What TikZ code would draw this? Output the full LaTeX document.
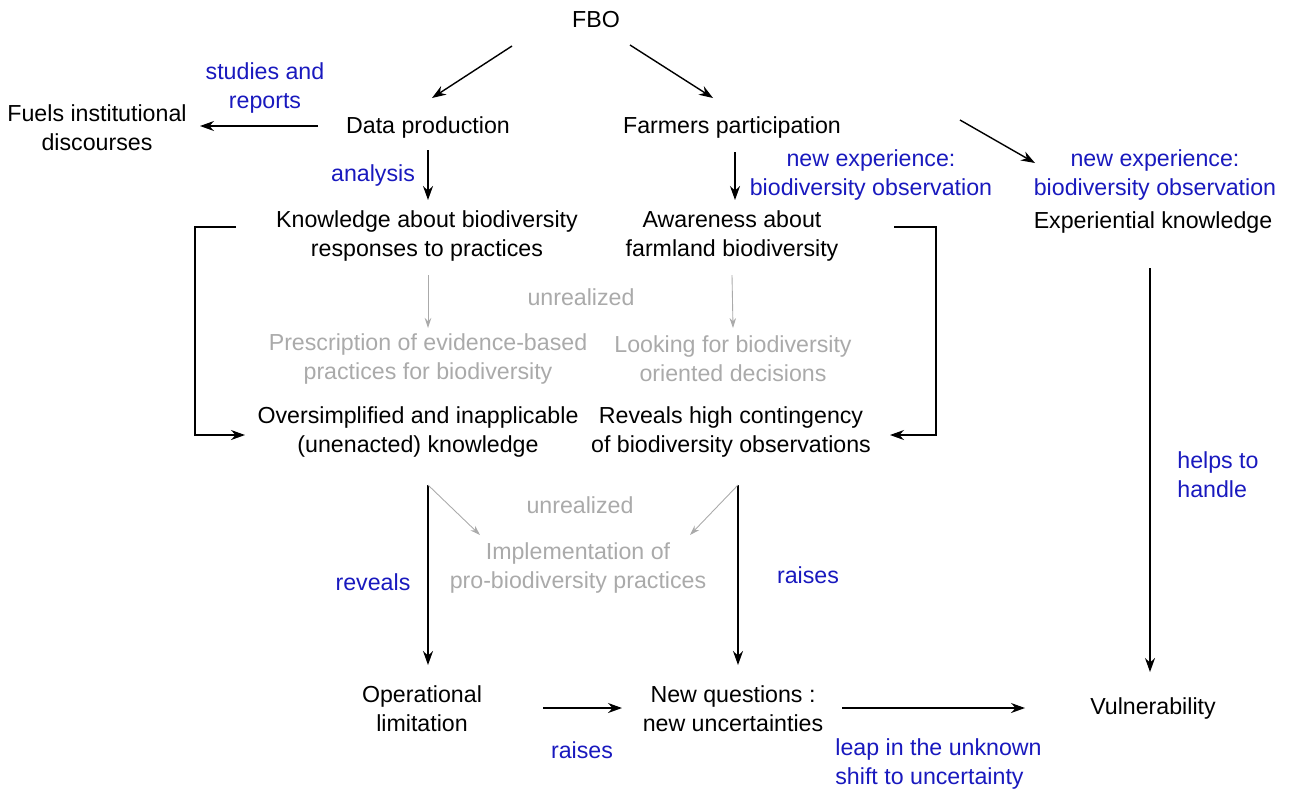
\documentclass[tikz,border=0pt]{standalone}
\usepackage{fontspec}
\setmainfont{Liberation Sans}
\usetikzlibrary{arrows.meta}
\definecolor{labelblue}{RGB}{25,25,190}
\definecolor{faded}{RGB}{170,170,170}
\begin{document}
\begin{tikzpicture}[x=0.02cm, y=-0.02cm,
    every node/.style={font=\fontsize{13.2}{16.5}\selectfont, inner sep=0pt, align=center},
    lbl/.style={text=labelblue},
    grey/.style={text=faded},
    arr/.style={-{Stealth[length=0.28cm, width=0.2cm]}, line width=0.8pt},
    greyarr/.style={-{Stealth[length=0.2cm, width=0.13cm]}, line width=0.5pt, draw=faded}]
    \useasboundingbox (0, -2) rectangle (1290, 787);

    % Main nodes
    \node (fbo) at (596, 18) {FBO};
    \node (data) at (428, 125) {Data production};
    \node (farm) at (732, 125) {Farmers participation};
    \node (fuels) at (97, 126) {Fuels institutional\\discourses};
    \node (know) at (427, 234) {Knowledge about biodiversity\\responses to practices};
    \node (aware) at (732, 234) {Awareness about\\farmland biodiversity};
    \node (exper) at (1153, 220) {Experiential knowledge};
    \node[grey] (presc) at (428, 357) {Prescription of evidence-based\\practices for biodiversity};
    \node[grey] (look) at (733, 357) {Looking for biodiversity\\oriented decisions};
    \node (overs) at (418, 430) {Oversimplified and inapplicable\\(unenacted) knowledge};
    \node (reveal) at (731, 430) {Reveals high contingency\\of biodiversity observations};
    \node[grey] (impl) at (578, 566) {Implementation of\\pro-biodiversity practices};
    \node (oper) at (422, 707) {Operational\\limitation};
    \node (newq) at (733, 707) {New questions :\\new uncertainties};
    \node (vuln) at (1153, 706) {Vulnerability};

    % Labels
    \node[lbl] (studies) at (265, 86) {studies and\\reports};
    \node[lbl] (analysis) at (373, 173) {analysis};
    \node[lbl] (newexpa) at (871, 173) {new experience:\\biodiversity observation};
    \node[lbl] (newexpb) at (1155, 173) {new experience:\\biodiversity observation};
    \node[grey] (unreala) at (581, 295) {unrealized};
    \node[grey] (unrealb) at (580, 503) {unrealized};
    \node[lbl] (revlbl) at (373, 580) {reveals};
    \node[lbl] (raisesa) at (808, 573) {raises};
    \node[lbl] (raisesb) at (582, 748) {raises};
    \node[lbl, align=left, anchor=west] (leap) at (835, 762) {leap in the unknown\\shift to uncertainty};
    \node[lbl, align=left, anchor=west] (helps) at (1177, 473) {helps to\\handle};

    % Arrows
    \draw[arr] ([shift={(-84, 26)}]fbo.center) -- ([shift={(4, -29)}]data.center);
    \draw[arr] ([shift={(34, 25)}]fbo.center) -- ([shift={(-19, -29)}]farm.center);
    \draw[arr] ([shift={(-110, -1)}]data.center) -- ([shift={(103, -2)}]fuels.center);
    \draw[arr] ([shift={(0, 23)}]data.center) -- ([shift={(1, -36)}]know.center);
    \draw[arr] ([shift={(3, 25)}]farm.center) -- ([shift={(3, -36)}]aware.center);
    \draw[arr] ([shift={(228, -7)}]farm.center) -- ([shift={(-118, -59)}]exper.center);
    \draw[greyarr] ([shift={(1, 39)}]know.center) -- ([shift={(0, -31)}]presc.center);
    \draw[greyarr] ([shift={(0, 39)}]aware.center) -- ([shift={(0, -31)}]look.center);
    \draw[arr] ([shift={(-191, -9)}]know.center) -- ++(-41, 0) |- ([shift={(-173, 3)}]overs.center);
    \draw[arr] ([shift={(162, -9)}]aware.center) -- ++(42, 0) |- ([shift={(159, 3)}]reveal.center);
    \draw[arr] ([shift={(10, 53)}]overs.center) -- ([shift={(6, -44)}]oper.center);
    \draw[arr] ([shift={(7, 53)}]reveal.center) -- ([shift={(5, -44)}]newq.center);
    \draw[greyarr] ([shift={(10, 53)}]overs.center) -- ([shift={(-98, -33)}]impl.center);
    \draw[greyarr] ([shift={(7, 53)}]reveal.center) -- ([shift={(112, -33)}]impl.center);
    \draw[arr] ([shift={(121, -1)}]oper.center) -- ([shift={(-111, -1)}]newq.center);
    \draw[arr] ([shift={(109, -1)}]newq.center) -- ([shift={(-128, 0)}]vuln.center);
    \draw[arr] ([shift={(-3, 46)}]exper.center) -- ([shift={(-3, -36)}]vuln.center);
\end{tikzpicture}
\end{document}
